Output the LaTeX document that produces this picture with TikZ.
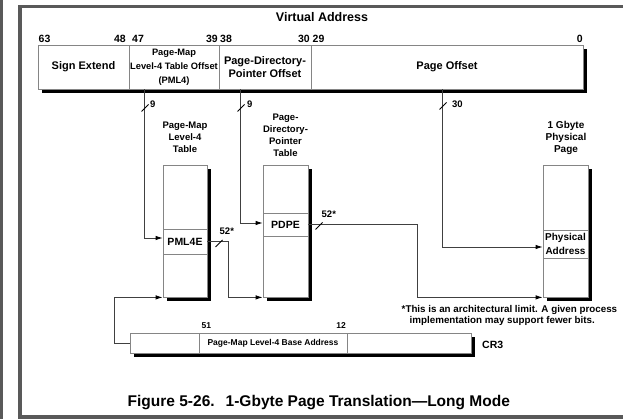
\documentclass[tikz,border=0pt]{standalone}
\usepackage{fontspec}
\setmainfont{Liberation Sans}
\usetikzlibrary{arrows.meta,positioning,backgrounds}
\definecolor{framegray}{HTML}{595959}
\definecolor{edgegray}{HTML}{858585}
\definecolor{wiregray}{HTML}{404040}
\tikzset{
  field/.style={draw=edgegray,fill=white,line width=0.8pt,align=center,
                inner sep=1pt,minimum height=44pt,
                font=\fontsize{11}{13}\selectfont\bfseries},
  crfield/.style={draw=edgegray,fill=white,line width=0.8pt,align=center,
                  inner sep=1pt,minimum height=20pt,
                  font=\fontsize{8.5}{10}\selectfont\bfseries},
  tbl/.style={draw=edgegray,fill=white,line width=0.8pt,inner sep=0pt,
              minimum height=132pt},
  entry/.style={draw=edgegray,line width=0.8pt,inner sep=0pt,align=center,
                font=\fontsize{10.5}{12.5}\selectfont\bfseries},
  tbltitle/.style={align=center,inner sep=0pt,
                   font=\fontsize{9.5}{12}\selectfont\bfseries},
  bitno/.style={inner sep=0pt,font=\fontsize{10.5}{12}\selectfont\bfseries},
  width/.style={inner sep=0pt,anchor=west,
                font=\fontsize{9.5}{11}\selectfont\bfseries},
  wire/.style={draw=wiregray,line width=0.8pt},
  wirearr/.style={wire,-{Latex[length=7pt,width=4.5pt,color=black]}},
  tick/.style={draw=black,line width=0.8pt}
}

\begin{document}
\begin{tikzpicture}[x=1pt,y=-1pt]
    \path[use as bounding box] (0,0) rectangle (623,419);

    % page frame
    \fill[framegray] (0,0) rectangle (3,419);
    \draw[framegray,line width=3.5pt] (623,6.5) -- (20,6.5) -- (20,417) -- (623,417);

    % virtual address
    \node[inner sep=0pt,font=\fontsize{12.5}{14}\selectfont\bfseries] (vatitle)
      at (322,17) {Virtual Address};
    \node[field,minimum width=91pt] (sign) at (83.5,67) {Sign Extend};
    \node[field,minimum width=90pt,font=\fontsize{9.3}{14}\selectfont\bfseries]
      (pml4) at (174,67) {Page-Map\\Level-4 Table Offset\\(PML4)};
    \node[field,minimum width=92pt] (pdp) at (265,67)
      {Page-Directory-\\Pointer Offset};
    \node[field,minimum width=272pt] (off) at (447,67) {Page Offset};

    \node[bitno,anchor=west] (b63) at (38.5,38.5) {63};
    \node[bitno,anchor=east] (b48) at (126,38.5) {48};
    \node[bitno,anchor=west] (b47) at (132,38.5) {47};
    \node[bitno,anchor=east] (b39) at (218,38.5) {39};
    \node[bitno,anchor=west] (b38) at (220,38.5) {38};
    \node[bitno,anchor=east] (b30) at (310,38.5) {30};
    \node[bitno,anchor=west] (b29) at (312.5,38.5) {29};
    \node[bitno,anchor=east] (b0) at (583,38.5) {0};

    % tables
    \node[tbltitle] (pml4ttl) at (185,137) {Page-Map\\Level-4\\Table};
    \node[tbl,minimum width=44pt] (pml4t) at (185,231) {};
    \node[entry,minimum width=44pt,minimum height=25pt] (pml4e)
      at (185,241.5) {PML4E};

    \node[tbltitle] (pdpttl) at (285.5,135.5) {Page-\\Directory-\\Pointer\\Table};
    \node[tbl,minimum width=45pt] (pdpt) at (285.5,231) {};
    \node[entry,minimum width=45pt,minimum height=23pt] (pdpe)
      at (285.5,224.5) {PDPE};

    \node[tbltitle,font=\fontsize{10}{12}\selectfont\bfseries] (physttl)
      at (566,138) {1 Gbyte\\Physical\\Page};
    \node[tbl,minimum width=45pt] (physt) at (565.5,231) {};
    \node[entry,minimum width=45pt,minimum height=28pt,
          font=\fontsize{10}{13.5}\selectfont\bfseries] (phys)
      at (565.5,244) {Physical\\Address};

    % CR3
    \node[crfield,minimum width=69pt] (cr3a) at (164.5,343) {};
    \node[crfield,minimum width=148pt] (cr3b) at (273,343)
      {Page-Map Level-4 Base Address};
    \node[crfield,minimum width=124pt] (cr3c) at (409,343) {};
    \node[bitno,anchor=west,font=\fontsize{8.5}{10}\selectfont\bfseries] (b51)
      at (201.5,325.5) {51};
    \node[bitno,anchor=east,font=\fontsize{8.5}{10}\selectfont\bfseries] (b12)
      at (346,325.5) {12};
    \node[bitno,anchor=west] (cr3) at (482,345) {CR3};

    % black shadows behind the boxes
    \begin{scope}[on background layer]
      \foreach \first/\last in {sign/off,pml4t/pml4t,pdpt/pdpt,physt/physt,cr3a/cr3c}
        \fill[black] ([shift={(4,4)}]\first.south west)
          rectangle ([shift={(4,4)}]\last.north east);
    \end{scope}

    % connectors
    \draw[wirearr] ([xshift=16pt]pml4.south west) |- ([yshift=3.5pt]pml4e.west);
    \draw[wirearr] ([xshift=22pt]pdp.south west) |- ([yshift=1.5pt]pdpe.west);
    \draw[wirearr] ([xshift=132pt]off.south west) |- ([yshift=-3pt]phys.west);
    \draw[wirearr] (pml4e.east) -- ++(21,0) |- (pdpt.south west);
    \draw[wirearr] (pdpe.east) -- ++(109,0) |- (physt.south west);
    \draw[wirearr] (cr3a.west) -- ++(-15,0) |- (pml4t.south west);

    % bus widths
    \draw[tick] (145,108) ++(-3.5,3.5) -- ++(7,-7);
    \node[width] (w9a) at (150,104) {9};
    \draw[tick] (241,108) ++(-3.5,3.5) -- ++(7,-7);
    \node[width] (w9b) at (247,104) {9};
    \draw[tick] (443,106) ++(-3.5,3.5) -- ++(7,-7);
    \node[width] (w30) at (452,104) {30};
    \draw[tick] (219,243.5) ++(-3.5,3.5) -- ++(7,-7);
    \node[width] (w52a) at (219.5,231.5) {52*};
    \draw[tick] (319,226) ++(-3.5,3.5) -- ++(7,-7);
    \node[width] (w52b) at (321.5,214) {52*};

    % notes
    \node[inner sep=0pt,anchor=west,font=\fontsize{9.8}{12}\selectfont\bfseries]
      (fn1) at (401.5,309.5) {*This is an architectural limit. A given process};
    \node[inner sep=0pt,anchor=west,font=\fontsize{9.8}{12}\selectfont\bfseries]
      (fn2) at (409.5,320.5) {implementation may support fewer bits.};
    \node[inner sep=0pt,anchor=west,font=\fontsize{15.5}{18}\selectfont\bfseries]
      (caption) at (127.5,403) {Figure 5-26.\hspace{11pt}1-Gbyte Page Translation—Long Mode};
  \end{tikzpicture}
\end{document}
